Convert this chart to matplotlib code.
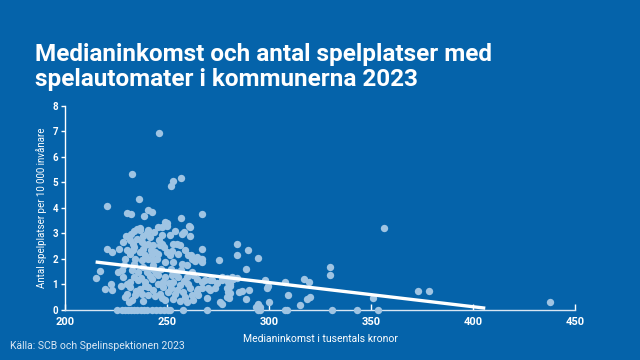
import matplotlib
matplotlib.use('Agg')
import matplotlib.pyplot as plt

# median income (thousand SEK) and slot machine venues per 10 000 inhabitants
income = [246, 232.7, 251.8, 252.9, 256.9, 220.4, 236.1, 230.5, 232.5, 240.7, 242.5, 238.8,
          256.9, 267, 249.8, 245.6, 247.6, 261.3, 236.8, 258.2, 261.3, 220.4, 222.8, 267,
          275.5, 284.5, 284.1, 289.9, 294.8, 288.7, 330, 329.9, 317.3, 319.8, 307.8, 298,
          298.9, 299.7, 309.2, 315.2, 318.8, 320.1, 351.1, 356.2, 373, 378.3, 437.9, 290.3,
          285.4, 286.6, 288.7, 294.8, 295.6, 293.6, 300.1, 281, 280.2, 276.8, 269.4, 215.2,
          217.2, 219.6, 222.5, 222.9, 226.1, 229.4, 231.5, 264.9, 265.4, 267.3, 268.6, 270.3,
          271.9, 273.5, 274.4, 276.8, 279.3, 281.7, 284.1, 279.3, 280.9, 262.9, 263.7, 267,
          267, 261.8,
          232.4, 235.1, 236.8, 240, 240.8, 241.7, 231.9, 233.5, 235.1, 237.6, 239.2, 240.8,
          243.3, 230.2, 231.9, 233.5, 236.8, 239.2, 242.5, 244.1, 229.4, 234.3, 237.6, 240.8,
          243.3, 227.8, 232.7, 235.9, 240, 243.3, 231.9, 235.9, 239.2, 242.5, 231.9, 236.8,
          240.8, 243.3, 230.2, 234.3, 237.6, 240.8, 232.7, 238.4,
          229, 234, 238, 243, 247, 252, 257, 262,
          249, 249.9, 260.9, 251.5, 257.2, 246.6, 247.4, 253.1, 254.7, 256.4, 245.7, 249.8,
          252.3, 260.4, 262.1, 263.7, 244.9, 249, 253.1, 257.2, 259.6, 245.7, 249, 252.3,
          255.5, 259.6, 262.9, 245.7, 248.2, 253.1, 256.4, 260.4, 246.6, 250.6, 253.9, 258,
          262.1, 249, 253.1, 256.4, 259.6,
          266.7, 264.6, 264.6, 267, 271.1, 276.8, 280, 282.5, 265.4, 271.1, 280.9, 280,
          276, 279.3,
          228.5, 230.5, 233.8, 237.2, 241.5, 244.8, 247.8, 250.8, 254.5, 258.5, 261.5, 226.5,
          228.2, 229.8, 233.8, 238.2, 242, 246, 248.5, 251.5, 255.5, 258.8, 227.2, 235,
          239, 244, 247.5, 251.8, 255, 259, 234, 238, 243.5, 247.5, 254,
          225.5, 228, 229.5, 231, 232.5, 234, 235.5, 237, 238.5, 240, 242.6, 244.5,
          246.5, 248.5, 250.5, 251.5, 257.8, 269.6, 294.6, 295.6, 308, 309, 331, 343, 353.4]
venues = [6.95, 5.32, 4.84, 5.06, 5.18, 4.08, 4.33, 3.8, 3.76, 3.9, 3.85, 3.7,
          3.6, 3.78, 3.42, 3.25, 3.27, 3.24, 3.2, 3.05, 2.88, 2.38, 2.28, 2.39,
          1.96, 2.59, 2.16, 2.34, 2.05, 1.59, 1.69, 1.37, 1.2, 1.09, 1.09, 1.18,
          0.87, 0.95, 0.59, 0.2, 0.43, 0.52, 0.48, 3.2, 0.73, 0.76, 0.3, 0.78,
          0.72, 0.75, 0.42, 0.22, 0.13, 0.1, 0.3, 0.65, 0.46, 0.24, 0.46, 1.27,
          1.53, 0.84, 1.03, 0.78, 1.5, 0.52, 0.31, 0.76, 0.59, 0.88, 1.18, 0.85,
          1.18, 0.85, 1.05, 1.31, 1.24, 1.31, 1.24, 0.85, 0.92, 0.39, 1.92, 1.99,
          1.88, 2.16,
          2.99, 3.19, 3.13, 3.03, 3.13, 2.86, 2.73, 2.6, 2.8, 2.67, 2.54, 2.6,
          2.54, 2.34, 2.21, 2.34, 2.27, 2.14, 2.21, 2.27, 2.01, 2.01, 1.95, 2.01,
          1.95, 1.56, 1.56, 1.49, 1.49, 1.62, 1.1, 1.16, 1.1, 1.23, 0.9, 0.84,
          0.9, 0.77, 0.64, 0.58, 0.64, 0.58, 0.38, 0.34,
          1.75, 1.8, 1.7, 1.78, 1.6, 1.62, 1.55, 1.5,
          3.45, 3.29, 3.28, 2.93, 2.99, 2.54, 2.6, 2.6, 2.6, 2.54, 2.21, 2.27,
          2.3, 2.14, 2.01, 1.95, 2.01, 1.88, 1.88, 1.82, 1.75, 1.36, 1.29, 1.36,
          1.29, 1.29, 1.36, 1.03, 0.9, 1.1, 0.97, 1.03, 0.64, 0.7, 0.64, 0.7,
          0.58, 0.38, 0.42, 0.34, 0.31,
          2.01, 2.08, 1.23, 1.1, 1.16, 1.16, 1.1, 1.23, 0.84, 0.77, 1.03, 0.7,
          0.31, 0.51,
          1.3, 1.0, 1.3, 1.25, 1.35, 1.45, 1.1, 1.05, 1.5, 1.15, 0.85, 2.4,
          2.65, 2.9, 2.45, 2.4, 2.35, 2.75, 2.45, 2.15, 2.2, 2.35, 0.95, 0.75,
          0.95, 0.55, 0.45, 0.85, 0.8, 0.5, 3.1, 2.9, 3.05, 2.95, 3.1,
          0, 0, 0, 0, 0, 0, 0, 0, 0, 0, 0, 0,
          0, 0, 0, 0, 0, 0, 0, 0, 0, 0, 0, 0, 0]

# trend line end points
trend_x = [215, 406]
trend_y = [1.88, 0.07]

bg = '#0563aa'
dot = '#9fc4e3'

fig = plt.figure(figsize=(6.4, 3.6), dpi=100, facecolor=bg)
ax = fig.add_axes([0.1016, 0.139, 0.7969, 0.567], facecolor=bg)

ax.scatter(income, venues, s=28, color=dot, linewidths=0, zorder=3, clip_on=False)
ax.plot(trend_x, trend_y, color='white', lw=2.4, zorder=4, solid_capstyle='butt')

ax.set_xlim(200, 450)
ax.set_ylim(0, 8)
ax.set_xticks([200, 250, 300, 350, 400, 450])
ax.set_yticks(range(0, 9))

for s in ['top', 'right']:
    ax.spines[s].set_visible(False)
ax.spines['left'].set_color('white')
ax.spines['bottom'].set_color('#d8e6f3')
ax.spines['left'].set_linewidth(1.0)
ax.spines['bottom'].set_linewidth(1.0)

ax.tick_params(axis='y', colors='white', length=3, width=1, labelsize=7, pad=2)
ax.tick_params(axis='x', colors='white', direction='in', length=4, width=1,
               labelsize=8, pad=5)
for lab in ax.get_xticklabels():
    lab.set_fontweight('bold')
    lab.set_family('Roboto')
for lab in ax.get_yticklabels():
    lab.set_fontweight('bold')
    lab.set_family('Roboto')

ax.set_ylabel('Antal spelplatser per 10 000 invånare', color='white', fontsize=7,
              family='Roboto', labelpad=4)
ax.set_xlabel('Medianinkomst i tusentals kronor', color='white', fontsize=7.5,
              family='Roboto', labelpad=5)

fig.text(0.055, 0.762, 'Medianinkomst och antal spelplatser med\nspelautomater i kommunerna 2023',
         color='white', fontsize=17.5, fontweight='bold', family='Roboto',
         linespacing=1.1, va='baseline', ha='left')
fig.text(0.016, 0.025, 'Källa: SCB och Spelinspektionen 2023', color='#dce8f4',
         fontsize=7.5, family='Roboto', ha='left', va='bottom')

fig.savefig('out.png', dpi=100, facecolor=bg)
